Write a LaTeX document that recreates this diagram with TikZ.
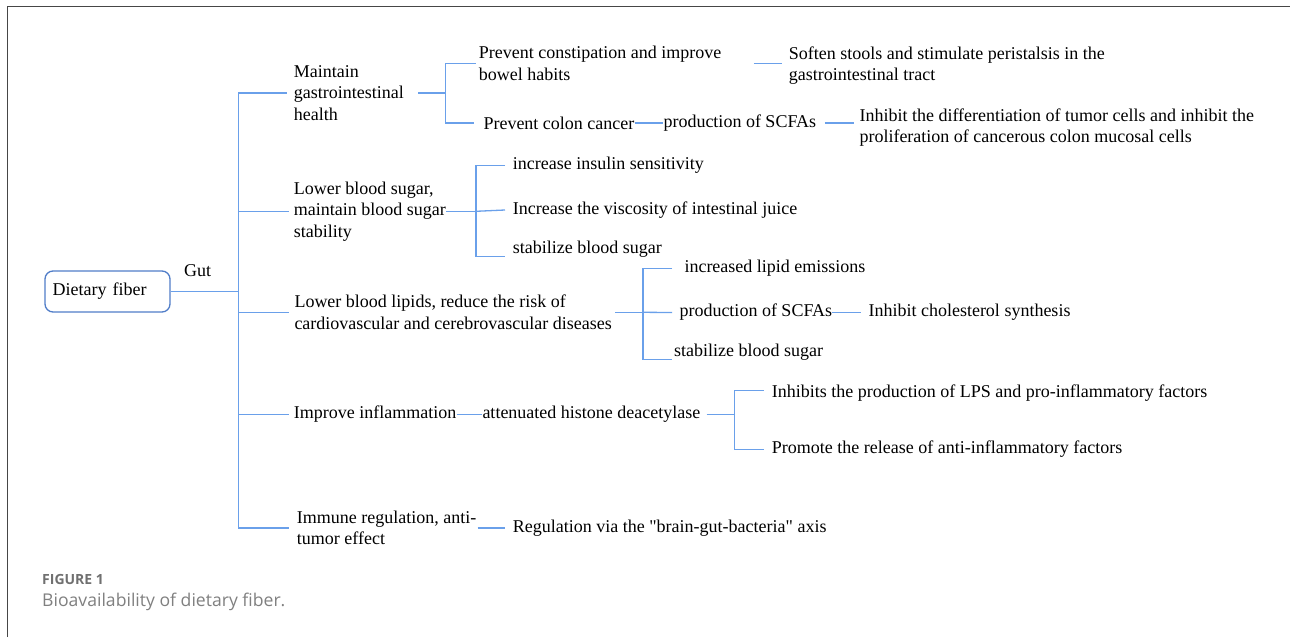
\documentclass[tikz,border=0pt]{standalone}
\usepackage{fontspec}
\setmainfont{Liberation Serif}[Ligatures=TeXOff]
\newfontfamily\capfont{Open Sans}
\definecolor{lineblue}{RGB}{106,160,234}
\definecolor{boxblue}{RGB}{80,125,200}
\definecolor{framegray}{RGB}{70,70,70}
\definecolor{capgray}{RGB}{112,112,112}
\definecolor{capgraylight}{RGB}{128,128,128}
\begin{document}
\begin{tikzpicture}[x=1pt,y=-1pt,
  txt/.style={anchor=west, inner sep=0pt, align=left, yshift=-1.5pt, font=\fontsize{18}{21.5}\selectfont},
  ln/.style={draw=lineblue, line width=1.3pt},
  rootbox/.style={draw=boxblue, rounded corners=8pt, line width=1.3pt, minimum width=125pt,
    minimum height=41pt, inner xsep=7.7pt, inner ysep=0pt, text width=109.6pt, align=left,
    font=\fontsize{18}{21.5}\selectfont}]
\useasboundingbox (0,0) rectangle (1290,637);
\fill[white] (0,0) rectangle (1290,637);
% frame
\coordinate (fr1) at (7.3,637);
\coordinate (fr2) at (7.3,6.7);
\coordinate (fr3) at (1290,6.7);
\draw[framegray, line width=1.3pt] (fr1) -- (fr2) -- (fr3);

% root
\node[rootbox] (df) at (107.5,291.5) {Dietary fiber};
\node[txt, anchor=base west] (gut) at (184,274.5) {Gut};

% level 1
\node[txt] (a1) at (293.7,91.5) {Maintain\\gastrointestinal\\health};
\node[txt] (a2) at (293.7,209.8) {Lower blood sugar,\\maintain blood sugar\\stability};
\node[txt] (a3) at (294.3,310.8) {Lower blood lipids, reduce the risk of\\cardiovascular and cerebrovascular diseases};
\node[txt] (a4) at (293.7,413) {Improve inflammation};
\node[txt] (a5) at (296.7,526.5) {Immune regulation, anti-\\tumor effect};

% branch 1
\node[txt] (b1) at (478.7,62) {Prevent constipation and improve\\bowel habits};
\node[txt] (b2) at (483.3,121.5) {Prevent colon cancer};
\node[txt] (c1) at (788.7,64) {Soften stools and stimulate peristalsis in the\\gastrointestinal tract};
\node[txt] (c2) at (663.3,121.5) {production of SCFAs};
\node[txt] (d2) at (859.3,126) {Inhibit the differentiation of tumor cells and inhibit the\\proliferation of cancerous colon mucosal cells};

% branch 2
\node[txt] (e1) at (512.7,164) {increase insulin sensitivity};
\node[txt] (e2) at (512.7,208.5) {Increase the viscosity of intestinal juice};
\node[txt] (e3) at (512.7,248) {stabilize blood sugar};

% branch 3
\node[txt] (f1) at (684.3,267) {increased lipid emissions};
\node[txt] (f2) at (679.3,311) {production of SCFAs};
\node[txt] (f3) at (674,350.7) {stabilize blood sugar};
\node[txt] (g2) at (868.3,311) {Inhibit cholesterol synthesis};

% branch 4
\node[txt] (h) at (482.3,413) {attenuated histone deacetylase};
\node[txt] (i1) at (771.7,391.3) {Inhibits the production of LPS and pro-inflammatory factors};
\node[txt] (i2) at (771.7,448) {Promote the release of anti-inflammatory factors};

% branch 5
\node[txt] (j) at (512.7,526.5) {Regulation via the "brain-gut-bacteria" axis};

% caption
\node[anchor=base west, inner sep=0pt, font=\capfont\bfseries\fontsize{14}{16}\selectfont, text=capgray] (fig) at (42,584) {FIGURE 1};
\node[anchor=base west, inner sep=0pt, font=\capfont\fontsize{17.6}{20}\selectfont, text=capgraylight] (cap) at (42,606.5) {Bioavailability of dietary fiber.};

% connectors: trunk
\coordinate (t) at (238.7,291.5);
\draw[ln] (df.east) -- (t);
\draw[ln] ([xshift=-7pt]a1.west) -| (t) |- ([xshift=-7.4pt]a5.west);
\draw[ln] (t |- a2.west) -- ([xshift=-5pt]a2.west);
\draw[ln] (t |- a3.west) -- ([xshift=-5pt]a3.west);
\draw[ln] (t |- a4.west) -- ([xshift=-4.4pt]a4.west);

% a1 bracket
\coordinate (k1) at (445.7,93);
\draw[ln] ([xshift=14.3pt]a1.east) -- (k1);
\draw[ln] ([xshift=-3pt]b1.west) -| (k1) |- ([xshift=-9.3pt]b2.west);
\draw[ln] ([xshift=32.3pt]b1.east) -- ++(28,0);
\draw[ln] (b2.east) -- (c2.west);
\draw[ln] ([xshift=8.4pt]c2.east) -- ++(29,0);

% a2 bracket
\coordinate (k2) at (476,211.3);
\draw[ln] (a2.east) -- (k2);
\draw[ln] ([xshift=-7.7pt]e1.west) -| (k2) |- ([xshift=-7.7pt,yshift=-7pt]e3.west);
\draw[ln] (k2) -- ([xshift=-7.7pt]e2.west);

% a3 bracket
\coordinate (k3) at (643,312.3);
\draw[ln] ([xshift=3.3pt]a3.east) -- (k3);
\draw[ln] ([xshift=-12.3pt]f1.west) -| (k3) |- ([xshift=-2pt,yshift=-7pt]f3.west);
\draw[ln] (k3) -- ([xshift=-7.3pt]f2.west);
\draw[ln] (f2.east) -- ([xshift=-7.6pt]g2.west);

% a4
\draw[ln] (a4.east) -- (h.west);
\coordinate (k4) at (734.7,414.5);
\draw[ln] ([xshift=6pt]h.east) -- (k4);
\draw[ln] ([xshift=-8pt,yshift=2.6pt]i1.west) -| (k4) |- ([xshift=-8pt]i2.west);

% a5
\draw[ln] ([xshift=1pt]a5.east) -- ([xshift=-7.7pt]j.west);
\end{tikzpicture}
\end{document}
